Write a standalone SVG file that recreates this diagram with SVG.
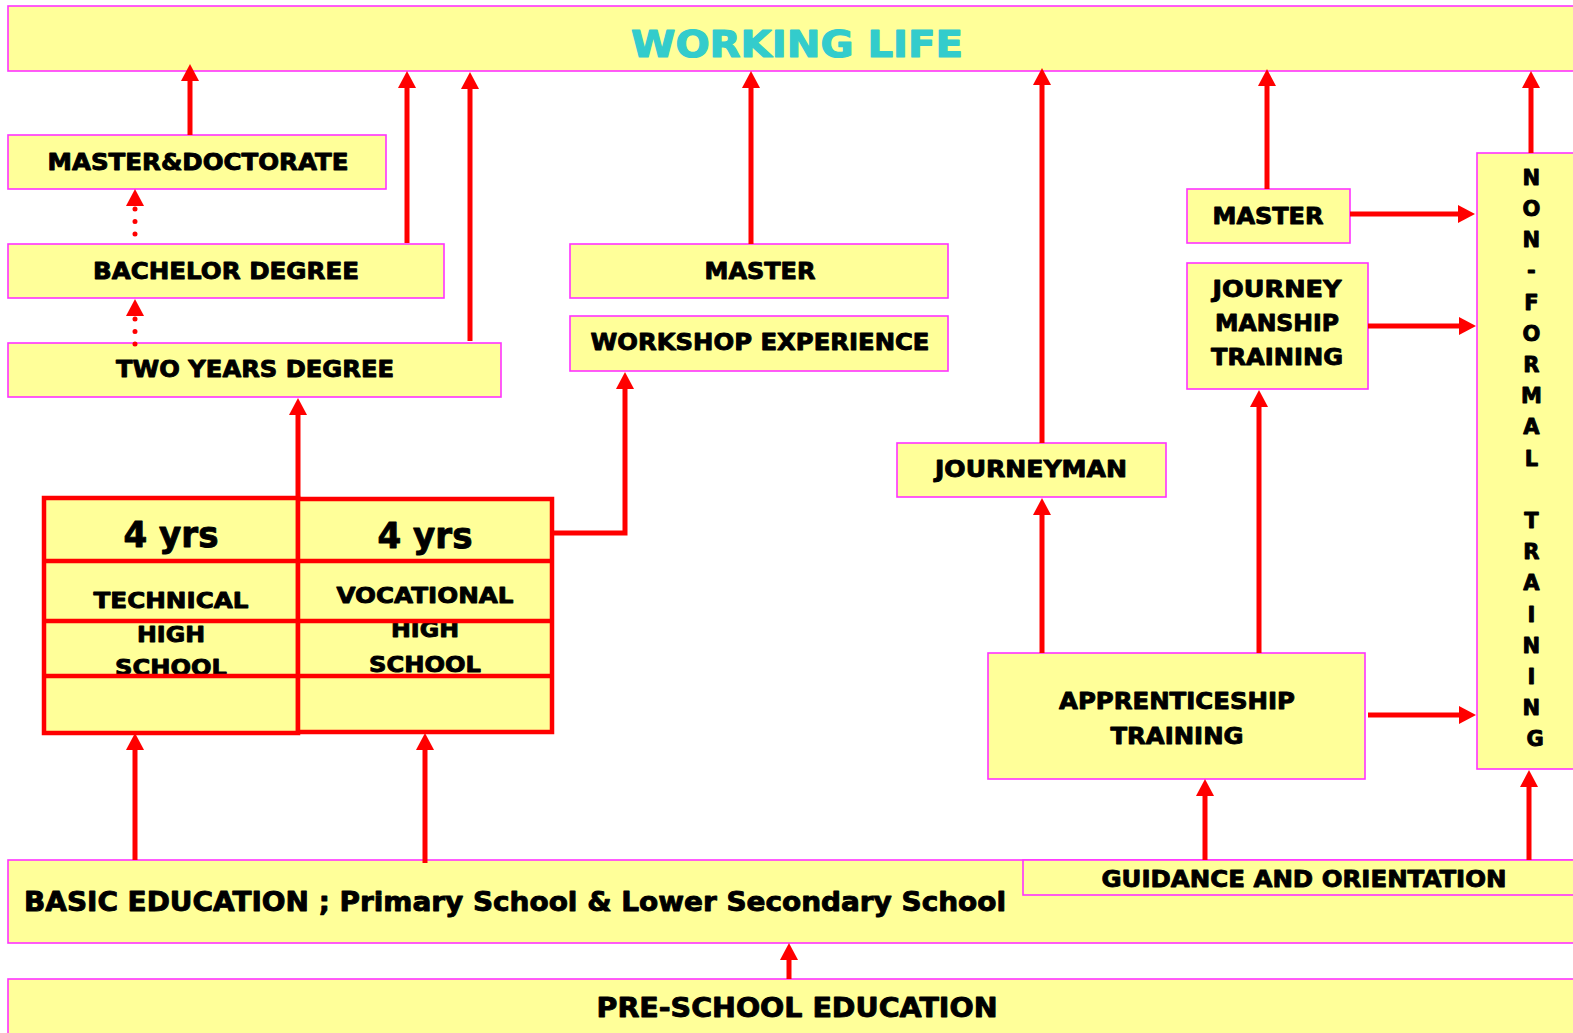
<svg xmlns="http://www.w3.org/2000/svg" width="1573" height="1033" viewBox="0 0 1573 1033">
<style>
.box{fill:#FFFF99;stroke:#FF33FF;stroke-width:1.6}
.t{font-family:"DejaVu Sans","Liberation Sans",sans-serif;font-weight:bold;fill:#000;stroke:#000;stroke-width:0.9;stroke-linejoin:round;text-anchor:middle}
.title{font-family:"DejaVu Sans","Liberation Sans",sans-serif;font-weight:bold;fill:#33CCCC;stroke:#33CCCC;stroke-width:1.2;stroke-linejoin:round;text-anchor:middle;font-size:38px}
.l{font-size:23px}
.c{fill:none;stroke:#FF0000;stroke-width:5;marker-end:url(#ah)}
.d{fill:none;stroke:#FF0000;stroke-width:5;stroke-linecap:round;stroke-dasharray:0 12.5;marker-end:url(#ah)}
.grid{fill:#FFFF99;stroke:#FF0000;stroke-width:4.5}
.gl{stroke:#FF0000;stroke-width:4.5;fill:none}
</style>
<defs>
<marker id="ah" markerUnits="userSpaceOnUse" markerWidth="17" markerHeight="18" refX="0" refY="9" orient="auto">
<path d="M0,0 L17,9 L0,18 z" fill="#FF0000"/>
</marker>
</defs>
<rect width="1573" height="1033" fill="#FFFFFF"/>

<g id="working-life">
<rect class="box" x="8" y="6" width="1580" height="65"/>
<text class="title" x="797" y="57" textLength="332" lengthAdjust="spacingAndGlyphs">WORKING LIFE</text>
</g>

<g id="master-doctorate">
<rect class="box" x="8" y="135" width="378" height="54"/>
<text class="t l" x="198" y="170" textLength="301" lengthAdjust="spacingAndGlyphs">MASTER&amp;DOCTORATE</text>
</g>

<g id="bachelor">
<rect class="box" x="8" y="244" width="436" height="54"/>
<text class="t l" x="226" y="279" textLength="266" lengthAdjust="spacingAndGlyphs">BACHELOR DEGREE</text>
</g>

<g id="two-years">
<rect class="box" x="8" y="343" width="493" height="54"/>
<text class="t l" x="255" y="377" textLength="278" lengthAdjust="spacingAndGlyphs">TWO YEARS DEGREE</text>
</g>

<g id="master-mid">
<rect class="box" x="570" y="244" width="378" height="54"/>
<text class="t l" x="760" y="279" textLength="111" lengthAdjust="spacingAndGlyphs">MASTER</text>
</g>

<g id="workshop">
<rect class="box" x="570" y="316" width="378" height="55"/>
<text class="t l" x="760" y="350" textLength="339" lengthAdjust="spacingAndGlyphs">WORKSHOP EXPERIENCE</text>
</g>

<g id="journeyman">
<rect class="box" x="897" y="443" width="269" height="54"/>
<text class="t l" x="1031" y="477" textLength="192" lengthAdjust="spacingAndGlyphs">JOURNEYMAN</text>
</g>

<g id="master-right">
<rect class="box" x="1187" y="189" width="163" height="54"/>
<text class="t l" x="1268" y="224" textLength="111" lengthAdjust="spacingAndGlyphs">MASTER</text>
</g>

<g id="journeymanship">
<rect class="box" x="1187" y="263" width="181" height="126"/>
<text class="t l" x="1277" y="297" textLength="129" lengthAdjust="spacingAndGlyphs">JOURNEY</text>
<text class="t l" x="1277" y="331" textLength="124" lengthAdjust="spacingAndGlyphs">MANSHIP</text>
<text class="t l" x="1277" y="365" textLength="132" lengthAdjust="spacingAndGlyphs">TRAINING</text>
</g>

<g id="apprenticeship">
<rect class="box" x="988" y="653" width="377" height="126"/>
<text class="t l" x="1177" y="709" textLength="236" lengthAdjust="spacingAndGlyphs">APPRENTICESHIP</text>
<text class="t l" x="1177" y="744" textLength="133" lengthAdjust="spacingAndGlyphs">TRAINING</text>
</g>

<g id="non-formal">
<rect class="box" x="1477" y="153" width="110" height="616"/>
<text class="t" style="font-size:21px">
<tspan x="1535" y="185">N</tspan>
<tspan x="1535" y="216">O</tspan>
<tspan x="1535" y="247">N</tspan>
<tspan x="1535" y="278">-</tspan>
<tspan x="1535" y="310">F</tspan>
<tspan x="1535" y="341">O</tspan>
<tspan x="1535" y="372">R</tspan>
<tspan x="1535" y="403">M</tspan>
<tspan x="1535" y="434">A</tspan>
<tspan x="1535" y="466">L</tspan>
<tspan x="1535" y="528">T</tspan>
<tspan x="1535" y="559">R</tspan>
<tspan x="1535" y="590">A</tspan>
<tspan x="1535" y="622">I</tspan>
<tspan x="1535" y="653">N</tspan>
<tspan x="1535" y="684">I</tspan>
<tspan x="1535" y="715">N</tspan>
<tspan x="1535" y="746">G</tspan>
</text>
</g>

<g id="basic-education">
<rect class="box" x="8" y="860" width="1580" height="83"/>
<text class="t" x="24" y="911" style="font-size:26px;text-anchor:start" textLength="982" lengthAdjust="spacingAndGlyphs">BASIC EDUCATION ; Primary School &amp; Lower Secondary School</text>
</g>

<g id="guidance">
<rect class="box" x="1023" y="860" width="565" height="35"/>
<text class="t l" x="1304" y="887" textLength="405" lengthAdjust="spacingAndGlyphs">GUIDANCE AND ORIENTATION</text>
</g>

<g id="pre-school">
<rect class="box" x="8" y="979" width="1580" height="60"/>
<text class="t" x="797" y="1017" style="font-size:27px" textLength="401" lengthAdjust="spacingAndGlyphs">PRE-SCHOOL EDUCATION</text>
</g>

<g id="technical-high-school">
<rect class="grid" x="44" y="498" width="254" height="235"/>
<text class="t" x="171" y="547" style="font-size:35px" textLength="95" lengthAdjust="spacingAndGlyphs">4 yrs</text>
<text class="t" x="171" y="608" style="font-size:22px" textLength="155" lengthAdjust="spacingAndGlyphs">TECHNICAL</text>
<text class="t" x="171" y="642" style="font-size:22px" textLength="68" lengthAdjust="spacingAndGlyphs">HIGH</text>
<text class="t" x="171" y="675" style="font-size:22px" textLength="112" lengthAdjust="spacingAndGlyphs">SCHOOL</text>
<path class="gl" d="M44,561 H298 M44,621 H298 M44,676 H298"/>
</g>

<g id="vocational-high-school">
<rect class="grid" x="298" y="499" width="254" height="233"/>
<text class="t" x="425" y="548" style="font-size:35px" textLength="95" lengthAdjust="spacingAndGlyphs">4 yrs</text>
<text class="t" x="425" y="603" style="font-size:22px" textLength="177" lengthAdjust="spacingAndGlyphs">VOCATIONAL</text>
<text class="t" x="425" y="637" style="font-size:22px" textLength="68" lengthAdjust="spacingAndGlyphs">HIGH</text>
<text class="t" x="425" y="672" style="font-size:22px" textLength="112" lengthAdjust="spacingAndGlyphs">SCHOOL</text>
<path class="gl" d="M298,561 H552 M298,621 H552 M298,676 H552"/>
</g>

<g id="connectors">
<path class="c" d="M190,135 V81"/>
<path class="c" d="M407,243 V88"/>
<path class="c" d="M470,341 V89"/>
<path class="d" d="M135,234 V206"/>
<path class="d" d="M135,344 V316"/>
<path class="c" d="M298,498 V415"/>
<path class="c" d="M552,533 H625 V389"/>
<path class="c" d="M751,244 V88"/>
<path class="c" d="M1042,443 V85"/>
<path class="c" d="M1267,189 V86"/>
<path class="c" d="M1531,153 V88"/>
<path class="c" d="M1350,214 H1458"/>
<path class="c" d="M1368,326 H1459"/>
<path class="c" d="M1368,715 H1459"/>
<path class="c" d="M1042,653 V515"/>
<path class="c" d="M1259,653 V407"/>
<path class="c" d="M1205,860 V796"/>
<path class="c" d="M1529,860 V787"/>
<path class="c" d="M135,860 V750"/>
<path class="c" d="M425,863 V750"/>
<path class="c" d="M789,979 V960"/>
</g>
</svg>
